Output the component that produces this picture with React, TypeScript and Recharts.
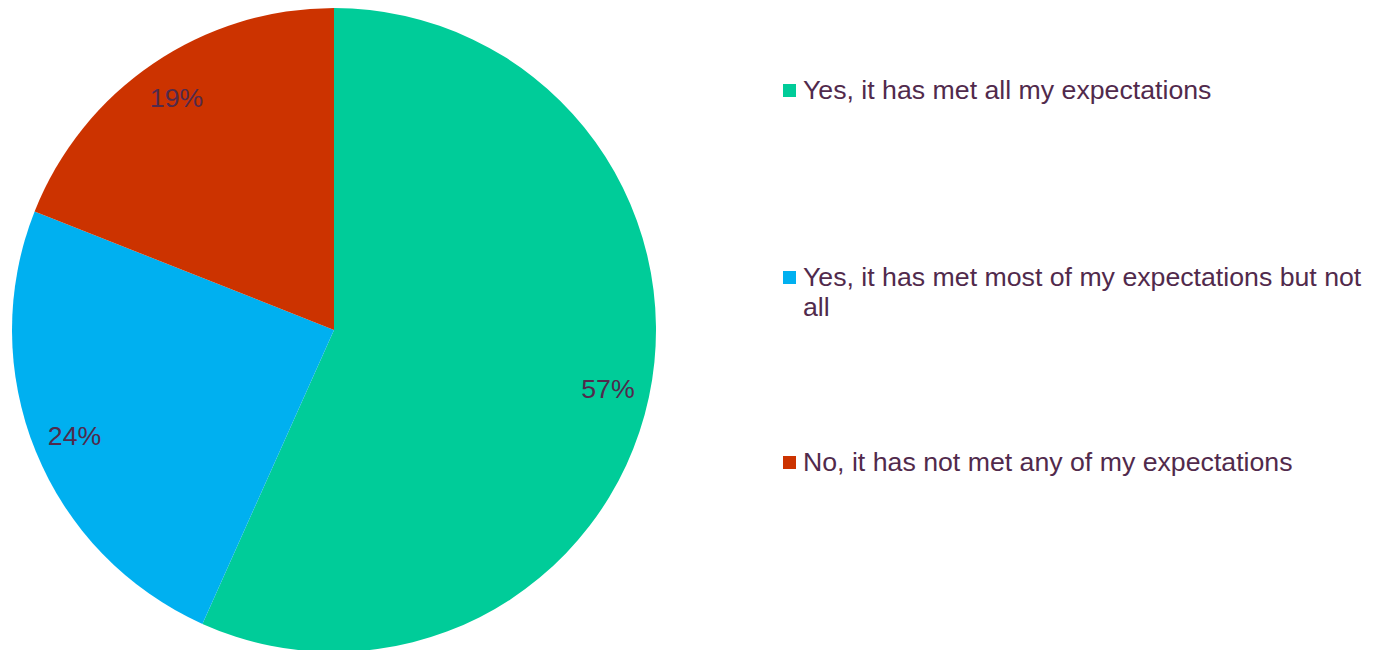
import { PieChart, Pie, Cell, Legend } from 'recharts'

// ─── 满意度饼图 ──────────────────────────────────

const CATEGORIES = [
  'Yes, it has met all my expectations',
  'Yes, it has met most of my expectations but not all',
  'No, it has not met any of my expectations',
]

// shares; labels show them rounded
const VALUES = [56.7, 24.3, 19.0]

const COLORS = [
  '#00CC99', // green
  '#00B0F0', // blue
  '#CC3300', // red
]

const TEXT_COLOR = '#512a4c'
const FONT = '"Liberation Sans", Arial, sans-serif'

const data = CATEGORIES.map((name, i) => ({ name, value: VALUES[i] }))

// legend item vertical offsets (px from chart top)
const LEGEND_TOPS = [67, 254, 439]

const RADIAN = Math.PI / 180

function renderLabel(props: any) {
  const { cx, cy, midAngle, outerRadius, value } = props
  const r = outerRadius * 0.87
  const x = cx + r * Math.cos(-midAngle * RADIAN)
  const y = cy + r * Math.sin(-midAngle * RADIAN)
  return (
    <text
      x={x}
      y={y}
      fill={TEXT_COLOR}
      fontSize={26.7}
      fontFamily={FONT}
      textAnchor="middle"
      dominantBaseline="central"
    >
      {`${Math.round(value)}%`}
    </text>
  )
}

function renderLegend() {
  return (
    <div style={{ position: 'relative', width: 595, height: 600 }}>
      {data.map((d, i) => (
        <div
          key={d.name}
          style={{
            position: 'absolute',
            top: LEGEND_TOPS[i],
            left: 0,
            display: 'flex',
            alignItems: 'flex-start',
            fontFamily: FONT,
            fontSize: 26.7,
            lineHeight: '30px',
            color: TEXT_COLOR,
          }}
        >
          <span
            style={{
              display: 'inline-block',
              width: 13,
              height: 13,
              marginTop: 9,
              marginRight: 7,
              background: COLORS[i],
              flexShrink: 0,
            }}
          />
          <span style={{ width: 570 }}>{d.name}</span>
        </div>
      ))}
    </div>
  )
}

export default function App() {
  return (
    <PieChart width={1370} height={642} margin={{ top: 0, right: 0, bottom: 0, left: 0 }}>
      <Pie
        data={data}
        dataKey="value"
        nameKey="name"
        cx={326}
        cy={322}
        outerRadius={322}
        startAngle={90}
        endAngle={-270}
        stroke="none"
        label={renderLabel}
        labelLine={false}
        isAnimationActive={false}
      >
        {data.map((_, index) => (
          <Cell key={`cell-${index}`} fill={COLORS[index]} />
        ))}
      </Pie>
      <Legend
        content={renderLegend}
        wrapperStyle={{ left: 775, top: 0, width: 595 }}
      />
    </PieChart>
  )
}
